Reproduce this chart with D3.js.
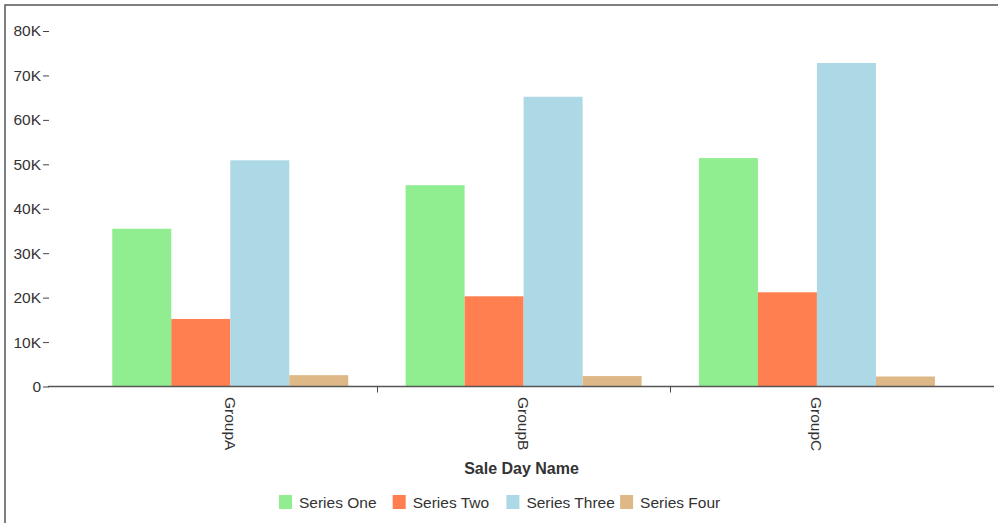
<!DOCTYPE html>
<html>
<head>
<meta charset="utf-8">
<script src="https://cdn.jsdelivr.net/npm/d3@7"></script>
<style>
  html, body { margin: 0; padding: 0; background: #fff; overflow: hidden; }
  svg { display: block; }
  text { font-family: "Liberation Sans", Arial, sans-serif; fill: #333; }
</style>
</head>
<body>
<svg id="chart" width="998" height="523"></svg>
<script>
// ---- data ----
const categories = ["GroupA", "GroupB", "GroupC"];
const seriesNames = ["Series One", "Series Two", "Series Three", "Series Four"];
const seriesOne   = [35500, 45300, 51400];
const seriesTwo   = [15200, 20300, 21200];
const seriesThree = [50900, 65200, 72800];
const seriesFour  = [2550, 2350, 2250];
const seriesColors = ["#90EE90", "#FF7F50", "#ADD8E6", "#DEB887"];
const yTickValues = [0, 10000, 20000, 30000, 40000, 50000, 60000, 70000, 80000];
const xTitle = "Sale Day Name";

const seriesValues = [seriesOne, seriesTwo, seriesThree, seriesFour];

// ---- layout ----
const plotLeft = 49, plotRight = 994, plotBottom = 386.5, plotTop = 31;
const bandStart = 83.6, bandEnd = 963.6;

const svg = d3.select("#chart");

// frame
svg.append("rect")
  .attr("x", 5).attr("y", 5)
  .attr("width", 1000).attr("height", 540)
  .attr("fill", "none").attr("stroke", "#555").attr("stroke-width", 1.5);

const x0 = d3.scaleBand().domain(categories)
  .range([bandStart, bandEnd]).paddingInner(0).paddingOuter(0);
const x1 = d3.scaleBand().domain(seriesNames)
  .range([0, x0.bandwidth()]).paddingInner(0).paddingOuter(0.486);
const y = d3.scaleLinear().domain([0, 80000]).range([plotBottom, plotTop]);

// bars
const groups = svg.append("g").selectAll("g")
  .data(categories).join("g")
  .attr("transform", d => `translate(${x0(d)},0)`);

groups.selectAll("rect")
  .data((c, ci) => seriesNames.map((s, si) => ({ s, si, v: seriesValues[si][ci] })))
  .join("rect")
  .attr("x", d => x1(d.s))
  .attr("y", d => y(d.v))
  .attr("width", x1.bandwidth())
  .attr("height", d => y(0) - y(d.v))
  .attr("fill", d => seriesColors[d.si]);

// y axis
const yAxis = d3.axisLeft(y)
  .tickValues(yTickValues)
  .tickSize(6).tickPadding(2)
  .tickFormat(v => v === 0 ? "0" : (v / 1000) + "K");
const gy = svg.append("g").attr("transform", `translate(${plotLeft},0)`).call(yAxis);
gy.select(".domain").remove();
gy.selectAll(".tick line").attr("stroke", "#444");
gy.selectAll(".tick text")
  .style("font-family", '"Liberation Sans", Arial, sans-serif')
  .style("font-size", "15.5px").attr("fill", "#333");

// x axis line
svg.append("line")
  .attr("x1", plotLeft - 1).attr("x2", plotRight)
  .attr("y1", plotBottom).attr("y2", plotBottom)
  .attr("stroke", "#555").attr("stroke-width", 1.5);

// boundary ticks between groups
svg.append("g").selectAll("line")
  .data(categories.slice(1)).join("line")
  .attr("x1", d => Math.round(x0(d)) + 0.5).attr("x2", d => Math.round(x0(d)) + 0.5)
  .attr("y1", plotBottom).attr("y2", plotBottom + 6)
  .attr("stroke", "#444").attr("stroke-width", 1);

// category labels rotated
svg.append("g").selectAll("text")
  .data(categories).join("text")
  .attr("transform", d => `translate(${x0(d) + x0.bandwidth() / 2},397) rotate(90)`)
  .attr("text-anchor", "start")
  .attr("dy", "0.35em")
  .style("font-size", "15.5px")
  .text(d => d);

// x title
svg.append("text")
  .attr("x", (plotLeft + plotRight) / 2)
  .attr("y", 474)
  .attr("text-anchor", "middle")
  .style("font-size", "16px").style("font-weight", "bold")
  .attr("fill", "#222")
  .text(xTitle);

// legend
const legendStart = 279, legendStep = 113.7;
const lg = svg.append("g").selectAll("g")
  .data(seriesNames).join("g")
  .attr("transform", (d, i) => `translate(${legendStart + i * legendStep},495)`);
lg.append("rect").attr("width", 13).attr("height", 14)
  .attr("fill", (d, i) => seriesColors[i]);
lg.append("text").attr("x", 20).attr("y", 12.5)
  .style("font-size", "15.5px")
  .text(d => d);
</script>
</body>
</html>
